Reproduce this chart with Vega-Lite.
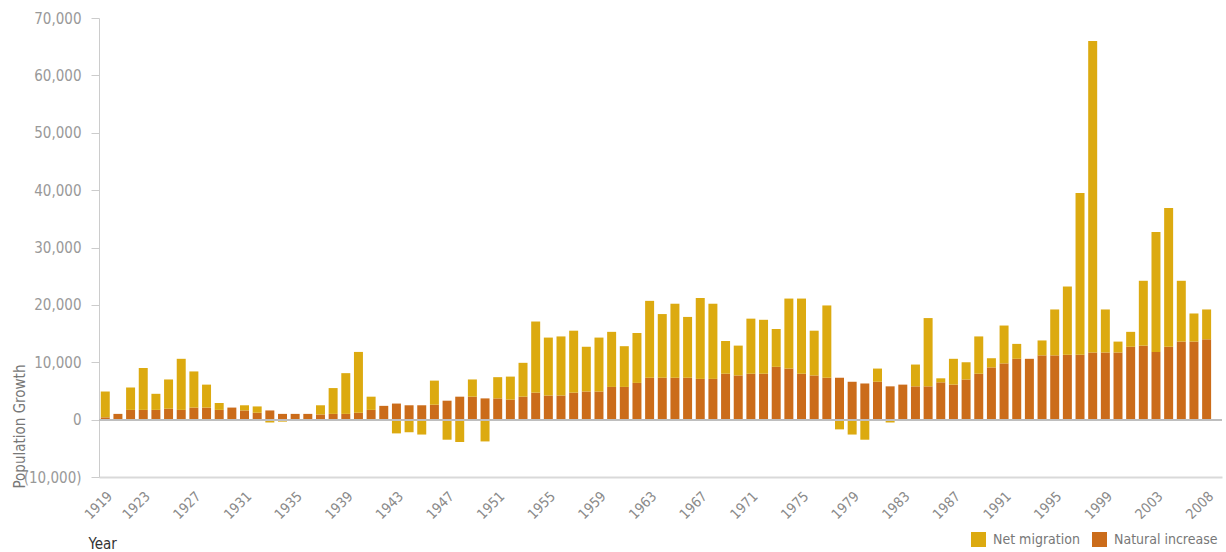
{
  "$schema": "https://vega.github.io/schema/vega-lite/v6.json",
  "width": 1123,
  "height": 459,
  "autosize": {"type": "none"},
  "padding": {"left": 99, "top": 18, "right": 4, "bottom": 75},
  "background": "white",
  "config": {
    "view": {"stroke": null},
    "font": "DejaVu Sans Condensed, Roboto Condensed, Liberation Sans Narrow, Roboto, sans-serif"
  },
  "data": {
    "values": [
      {"Year": "1919", "Natural increase": 400, "Net migration": 4500},
      {"Year": "1920", "Natural increase": 1000, "Net migration": 0},
      {"Year": "1921", "Natural increase": 1700, "Net migration": 3900},
      {"Year": "1923", "Natural increase": 1700, "Net migration": 7300},
      {"Year": "1924", "Natural increase": 1700, "Net migration": 2800},
      {"Year": "1925", "Natural increase": 1900, "Net migration": 5100},
      {"Year": "1926", "Natural increase": 1700, "Net migration": 8900},
      {"Year": "1927", "Natural increase": 2100, "Net migration": 6300},
      {"Year": "1928", "Natural increase": 2100, "Net migration": 4000},
      {"Year": "1929", "Natural increase": 1700, "Net migration": 1200},
      {"Year": "1930", "Natural increase": 2100, "Net migration": 0},
      {"Year": "1931", "Natural increase": 1600, "Net migration": 900},
      {"Year": "1932", "Natural increase": 1200, "Net migration": 1100},
      {"Year": "1933", "Natural increase": 1600, "Net migration": -500},
      {"Year": "1934", "Natural increase": 1000, "Net migration": -350},
      {"Year": "1935", "Natural increase": 1000, "Net migration": 0},
      {"Year": "1936", "Natural increase": 1000, "Net migration": 0},
      {"Year": "1937", "Natural increase": 900, "Net migration": 1600},
      {"Year": "1938", "Natural increase": 1000, "Net migration": 4500},
      {"Year": "1939", "Natural increase": 1000, "Net migration": 7100},
      {"Year": "1940", "Natural increase": 1200, "Net migration": 10600},
      {"Year": "1941", "Natural increase": 1700, "Net migration": 2300},
      {"Year": "1942", "Natural increase": 2400, "Net migration": 0},
      {"Year": "1943", "Natural increase": 2800, "Net migration": -2400},
      {"Year": "1944", "Natural increase": 2500, "Net migration": -2200},
      {"Year": "1945", "Natural increase": 2500, "Net migration": -2600},
      {"Year": "1946", "Natural increase": 2600, "Net migration": 4200},
      {"Year": "1947", "Natural increase": 3300, "Net migration": -3500},
      {"Year": "1948", "Natural increase": 4000, "Net migration": -3900},
      {"Year": "1949", "Natural increase": 4000, "Net migration": 3000},
      {"Year": "1950", "Natural increase": 3700, "Net migration": -3800},
      {"Year": "1951", "Natural increase": 3700, "Net migration": 3700},
      {"Year": "1952", "Natural increase": 3500, "Net migration": 4000},
      {"Year": "1953", "Natural increase": 4000, "Net migration": 5900},
      {"Year": "1954", "Natural increase": 4700, "Net migration": 12400},
      {"Year": "1955", "Natural increase": 4200, "Net migration": 10100},
      {"Year": "1956", "Natural increase": 4200, "Net migration": 10300},
      {"Year": "1957", "Natural increase": 4700, "Net migration": 10800},
      {"Year": "1958", "Natural increase": 4900, "Net migration": 7800},
      {"Year": "1959", "Natural increase": 4900, "Net migration": 9400},
      {"Year": "1960", "Natural increase": 5700, "Net migration": 9600},
      {"Year": "1961", "Natural increase": 5700, "Net migration": 7100},
      {"Year": "1962", "Natural increase": 6400, "Net migration": 8700},
      {"Year": "1963", "Natural increase": 7300, "Net migration": 13400},
      {"Year": "1964", "Natural increase": 7300, "Net migration": 11100},
      {"Year": "1965", "Natural increase": 7300, "Net migration": 12900},
      {"Year": "1966", "Natural increase": 7300, "Net migration": 10600},
      {"Year": "1967", "Natural increase": 7100, "Net migration": 14100},
      {"Year": "1968", "Natural increase": 7100, "Net migration": 13100},
      {"Year": "1969", "Natural increase": 8000, "Net migration": 5700},
      {"Year": "1970", "Natural increase": 7700, "Net migration": 5200},
      {"Year": "1971", "Natural increase": 8000, "Net migration": 9600},
      {"Year": "1972", "Natural increase": 8000, "Net migration": 9400},
      {"Year": "1973", "Natural increase": 9200, "Net migration": 6600},
      {"Year": "1974", "Natural increase": 8900, "Net migration": 12200},
      {"Year": "1975", "Natural increase": 8000, "Net migration": 13100},
      {"Year": "1976", "Natural increase": 7700, "Net migration": 7800},
      {"Year": "1977", "Natural increase": 7300, "Net migration": 12600},
      {"Year": "1978", "Natural increase": 7300, "Net migration": -1700},
      {"Year": "1979", "Natural increase": 6600, "Net migration": -2600},
      {"Year": "1980", "Natural increase": 6300, "Net migration": -3500},
      {"Year": "1981", "Natural increase": 6600, "Net migration": 2300},
      {"Year": "1982", "Natural increase": 5800, "Net migration": -500},
      {"Year": "1983", "Natural increase": 6100, "Net migration": 0},
      {"Year": "1984", "Natural increase": 5800, "Net migration": 3800},
      {"Year": "1985", "Natural increase": 5800, "Net migration": 11900},
      {"Year": "1986", "Natural increase": 6500, "Net migration": 700},
      {"Year": "1987", "Natural increase": 6100, "Net migration": 4500},
      {"Year": "1988", "Natural increase": 7000, "Net migration": 3000},
      {"Year": "1989", "Natural increase": 8000, "Net migration": 6500},
      {"Year": "1990", "Natural increase": 9100, "Net migration": 1600},
      {"Year": "1991", "Natural increase": 9800, "Net migration": 6600},
      {"Year": "1992", "Natural increase": 10600, "Net migration": 2600},
      {"Year": "1993", "Natural increase": 10600, "Net migration": 0},
      {"Year": "1994", "Natural increase": 11200, "Net migration": 2600},
      {"Year": "1995", "Natural increase": 11200, "Net migration": 8000},
      {"Year": "1996", "Natural increase": 11300, "Net migration": 11900},
      {"Year": "1997", "Natural increase": 11300, "Net migration": 28200},
      {"Year": "1998", "Natural increase": 11700, "Net migration": 54300},
      {"Year": "1999", "Natural increase": 11700, "Net migration": 7500},
      {"Year": "2000", "Natural increase": 11700, "Net migration": 1900},
      {"Year": "2001", "Natural increase": 12700, "Net migration": 2600},
      {"Year": "2002", "Natural increase": 12900, "Net migration": 11300},
      {"Year": "2003", "Natural increase": 11800, "Net migration": 20900},
      {"Year": "2004", "Natural increase": 12700, "Net migration": 24200},
      {"Year": "2005", "Natural increase": 13600, "Net migration": 10600},
      {"Year": "2006", "Natural increase": 13600, "Net migration": 4900},
      {"Year": "2008", "Natural increase": 14000, "Net migration": 5200}
    ]
  },
  "layer": [
    {
      "transform": [{"fold": ["Natural increase", "Net migration"], "as": ["Component", "Value"]}],
      "mark": {"type": "bar"},
      "encoding": {
        "x": {
          "field": "Year",
          "type": "ordinal",
          "scale": {"paddingInner": 0.29, "paddingOuter": 0.5, "align": 0.14, "round": false},
          "axis": {
            "values": ["1919","1923","1927","1931","1935","1939","1943","1947","1951","1955","1959","1963","1967","1971","1975","1979","1983","1987","1991","1995","1999","2003","2008"],
            "labelAngle": -45,
            "labelFontSize": 14,
            "labelColor": "#8a8a8a",
            "labelPadding": 12,
            "ticks": false,
            "domainColor": "#d9d9d9",
            "domainWidth": 2,
            "title": "Year",
            "titleFontSize": 15,
            "titleFontWeight": "normal",
            "titleColor": "#333333",
            "titleAnchor": "start",
            "titleAlign": "left",
            "titleX": -11,
            "titleY": 71,
            "titleBaseline": "alphabetic"
          }
        },
        "y": {
          "field": "Value",
          "type": "quantitative",
          "stack": "zero",
          "scale": {"domain": [-10000, 70000], "nice": false},
          "axis": {
            "values": [-10000, 0, 10000, 20000, 30000, 40000, 50000, 60000, 70000],
            "labelExpr": "datum.value < 0 ? '(' + format(-datum.value, ',') + ')' : format(datum.value, ',')",
            "grid": false,
            "tickSize": 8,
            "tickColor": "#cccccc",
            "domainColor": "#cccccc",
            "labelPadding": 10,
            "labelFontSize": 15,
            "labelColor": "#999999",
            "title": "Population Growth",
            "titleFontSize": 15,
            "titleFontWeight": "normal",
            "titleColor": "#777777",
            "titleAngle": -90,
            "titleAlign": "left",
            "titleBaseline": "alphabetic",
            "titleX": -75,
            "titleY": 470
          }
        },
        "color": {
          "field": "Component",
          "type": "nominal",
          "scale": {"domain": ["Net migration", "Natural increase"], "range": ["#dcaa10", "#cb6c1a"]},
          "legend": {
            "title": null,
            "orient": "none",
            "direction": "horizontal",
            "legendX": 872,
            "legendY": 514,
            "symbolType": "square",
            "symbolSize": 225,
            "symbolStrokeWidth": 0,
            "labelFontSize": 14,
            "labelColor": "#777777",
            "labelOffset": 7,
            "columnPadding": 12
          }
        },
        "order": {"field": "Component", "sort": "ascending"}
      }
    },
    {
      "mark": {"type": "rule", "color": "#bdbdbd", "strokeWidth": 1.5},
      "encoding": {"y": {"datum": 0}}
    }
  ]
}
